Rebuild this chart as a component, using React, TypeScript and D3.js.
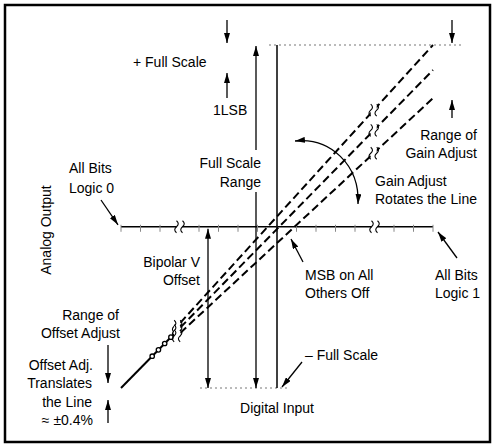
import React, { useEffect, useRef } from 'react';
import * as d3 from 'd3';

// digital input code as fraction of full scale, analog output as fraction of FS range
const gainEnds = [1.0, 0.927, 0.845];
const bipolarOffset = 0.47;
const msbCode = 0.5;
const axisTicks = [0, 0.0625, 0.125, 0.1875, 0.25, 0.3125, 0.375, 0.4375, 0.5, 0.5625, 0.625, 0.6875, 0.75, 0.8125, 0.875, 0.9375, 1];
const axisBreaks = [0.1875, 0.8125];
const lineBreakCode = 0.81;
const dashStartCode = 0.19;
const beadCodes = [0.1, 0.12, 0.14, 0.16];

export default function App() {
  const svgRef = useRef<SVGSVGElement>(null);

  useEffect(() => {
    if (!svgRef.current) return;
    d3.select(svgRef.current).selectAll('*').remove();

    const width = 496;
    const height = 448;
    const svg = d3.select(svgRef.current).attr('width', width).attr('height', height);

    const x = d3.scaleLinear().domain([0, 1]).range([121, 433]);
    const y = d3.scaleLinear().domain([0, 1]).range([388, 45]);

    const defs = svg.append('defs');
    defs.append('marker')
      .attr('id', 'ah')
      .attr('viewBox', '0 0 10 6')
      .attr('refX', 10)
      .attr('refY', 3)
      .attr('markerWidth', 10)
      .attr('markerHeight', 6)
      .attr('markerUnits', 'userSpaceOnUse')
      .attr('orient', 'auto-start-reverse')
      .append('path')
      .attr('d', 'M0,0 L10,3 L0,6 z')
      .attr('fill', '#000');

    // frame
    svg.append('rect')
      .attr('x', 5).attr('y', 5).attr('width', 485).attr('height', 437)
      .attr('fill', '#fff').attr('stroke', '#000').attr('stroke-width', 2.5);

    const yAxis = y(bipolarOffset);
    const xMsb = x(msbCode);

    // full-scale reference dotted lines
    svg.append('line')
      .attr('x1', xMsb - 8).attr('x2', 463).attr('y1', y(1)).attr('y2', y(1))
      .attr('stroke', '#777').attr('stroke-width', 1).attr('stroke-dasharray', '2,3');
    svg.append('line')
      .attr('x1', 200).attr('x2', xMsb + 13).attr('y1', y(0)).attr('y2', y(0))
      .attr('stroke', '#777').attr('stroke-width', 1).attr('stroke-dasharray', '2,3');

    // horizontal axis with ticks
    svg.append('line')
      .attr('x1', x(0)).attr('x2', x(1)).attr('y1', yAxis).attr('y2', yAxis)
      .attr('stroke', '#000').attr('stroke-width', 1.5);
    svg.append('g').selectAll('line')
      .data(axisTicks)
      .enter()
      .append('line')
      .attr('x1', d => x(d)).attr('x2', d => x(d))
      .attr('y1', yAxis - 2).attr('y2', yAxis + 5)
      .attr('stroke', '#888').attr('stroke-width', 1);

    // vertical axis at MSB code
    svg.append('line')
      .attr('x1', xMsb).attr('x2', xMsb).attr('y1', y(1)).attr('y2', y(0))
      .attr('stroke', '#000').attr('stroke-width', 1.5);

    // transfer lines
    const lineGen = d3.line<[number, number]>().x(d => x(d[0])).y(d => y(d[1]));
    const midEnd = gainEnds[1];
    svg.append('path')
      .attr('d', lineGen([[0, 0], [dashStartCode - 0.02, (dashStartCode - 0.02) * midEnd]]))
      .attr('stroke', '#000').attr('stroke-width', 2).attr('fill', 'none');
    svg.append('g').selectAll('circle')
      .data(beadCodes)
      .enter()
      .append('circle')
      .attr('cx', d => x(d)).attr('cy', d => y(d * midEnd))
      .attr('r', 2.2)
      .attr('fill', '#fff').attr('stroke', '#000').attr('stroke-width', 1.3);

    svg.append('g').selectAll('path')
      .data(gainEnds)
      .enter()
      .append('path')
      .attr('d', g => lineGen([[dashStartCode, dashStartCode * g], [1, g]]))
      .attr('stroke', '#000').attr('stroke-width', 2).attr('fill', 'none')
      .attr('stroke-dasharray', '8,4');

    // break marks
    const squiggle = (cx: number, cy: number) =>
      `M${cx},${cy - 6} q3.5,3 0,6 q-3.5,3 0,6`;
    const drawBreak = (cx: number, cy: number) => {
      const b = svg.append('g');
      b.append('rect').attr('x', cx - 3).attr('y', cy - 5).attr('width', 6).attr('height', 10).attr('fill', '#fff');
      [cx - 3, cx + 3].forEach(sx => {
        b.append('path').attr('d', squiggle(sx, cy)).attr('fill', 'none').attr('stroke', '#000').attr('stroke-width', 1.1);
      });
    };
    axisBreaks.forEach(c => drawBreak(x(c), yAxis));
    gainEnds.forEach(g => drawBreak(x(lineBreakCode), y(lineBreakCode * g)));
    gainEnds.forEach(g => drawBreak(x(dashStartCode - 0.01), y((dashStartCode - 0.01) * g)));

    // arrows
    const arrow = (x1: number, y1: number, x2: number, y2: number, both = false) => {
      const l = svg.append('line')
        .attr('x1', x1).attr('y1', y1).attr('x2', x2).attr('y2', y2)
        .attr('stroke', '#000').attr('stroke-width', 1.3)
        .attr('marker-end', 'url(#ah)');
      if (both) l.attr('marker-start', 'url(#ah)');
    };
    arrow(227, 20, 227, y(1) - 2);
    arrow(227, 98, 227, 73);
    arrow(452, 20, 452, y(1) - 2);
    arrow(452, 118, 452, 100);
    arrow(256, 150, 256, y(1) + 1);
    arrow(256, 192, 256, y(0));
    arrow(208, yAxis + 2, 208, y(0), true);
    arrow(101, 200, 118, yAxis - 2);
    arrow(303, 262, 291, 239);
    arrow(457, 258, 438, 232);
    arrow(302, 362, 282, y(0) - 1);
    arrow(108, 345, 108, 383);
    arrow(108, 423, 108, 400);

    svg.append('path')
      .attr('d', 'M295,141 C330,137 360,165 358,204')
      .attr('fill', 'none').attr('stroke', '#000').attr('stroke-width', 1.3)
      .attr('marker-start', 'url(#ah)').attr('marker-end', 'url(#ah)');

    // labels
    const label = (t: string, tx: number, ty: number, anchor = 'start') =>
      svg.append('text')
        .attr('x', tx).attr('y', ty)
        .attr('text-anchor', anchor)
        .attr('font-family', '"Liberation Sans", Arial, sans-serif')
        .attr('font-size', '14px')
        .attr('fill', '#000')
        .text(t);

    label('+ Full Scale', 133, 67);
    label('1LSB', 213, 115);
    label('Full Scale', 261, 168, 'end');
    label('Range', 261, 187, 'end');
    label('Range of', 477, 140, 'end');
    label('Gain Adjust', 477, 158, 'end');
    label('Gain Adjust', 375, 186);
    label('Rotates the Line', 375, 204);
    label('All Bits', 69, 173);
    label('Logic 0', 69, 193);
    label('Bipolar V', 200, 267, 'end');
    label('Offset', 200, 285, 'end');
    label('MSB on All', 305, 280);
    label('Others Off', 305, 298);
    label('All Bits', 435, 280);
    label('Logic 1', 435, 298);
    label('– Full Scale', 305, 360);
    label('Range of', 119, 320, 'end');
    label('Offset Adjust', 120, 338, 'end');
    label('Offset Adj.', 93, 370, 'end');
    label('Translates', 92, 388, 'end');
    label('the Line', 92, 407, 'end');
    label('≈ ±0.4%', 93, 425, 'end');
    label('Digital Input', xMsb, 413, 'middle');
    label('Analog Output', 0, 0, 'middle')
      .attr('transform', 'translate(51,230) rotate(-90)');
  }, []);

  return (
    <div style={{ position: 'absolute', left: 0, top: 0 }}>
      <svg ref={svgRef} style={{ display: 'block' }}></svg>
    </div>
  );
}
